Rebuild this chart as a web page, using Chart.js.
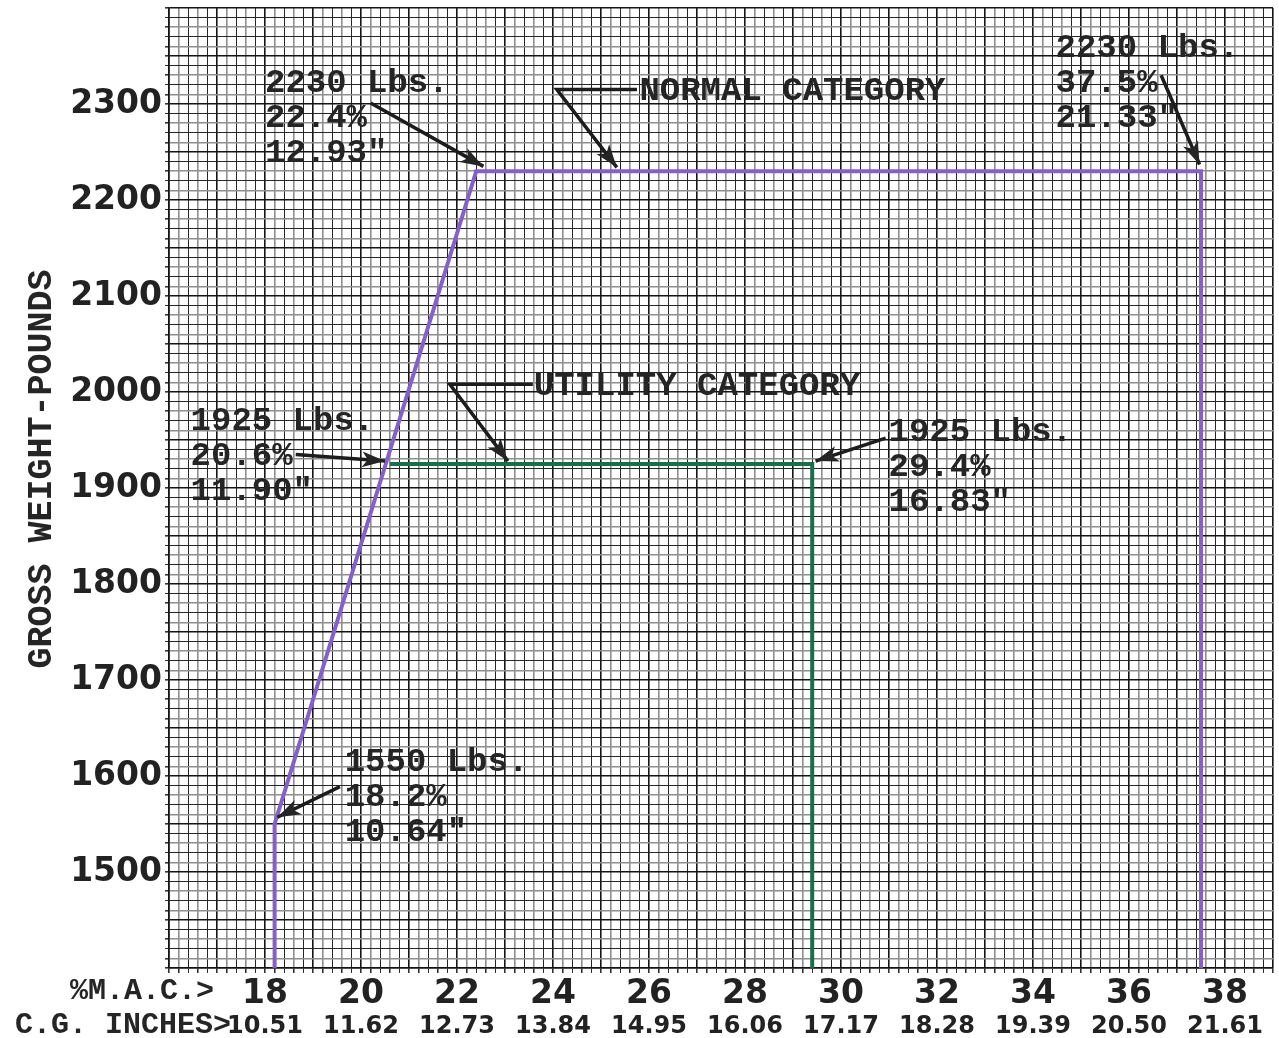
<!DOCTYPE html>
<html>
<head>
    <title>Weight and Balance Envelope</title>
    <meta charset="utf-8">
    <style>
        body { margin: 0; background: #fff; }
        #wrap { width: 1279px; height: 1038px; position: relative; }
    </style>
</head>
<body>
    <div id="wrap"><canvas id="chart" width="1279" height="1038"></canvas></div>

    <script src="https://cdn.jsdelivr.net/npm/chart.js"></script>
    <script>
        // tick labels
        var macTicks = [18, 20, 22, 24, 26, 28, 30, 32, 34, 36, 38];
        var cgInches = ['10.51', '11.62', '12.73', '13.84', '14.95', '16.06', '17.17', '18.28', '19.39', '20.50', '21.61'];
        var weightTicks = [1500, 1600, 1700, 1800, 1900, 2000, 2100, 2200, 2300];

        // envelopes (% MAC vs gross weight)
        var normalPct = [18.2, 18.2, 22.4, 37.5, 37.5];
        var normalLbs = [1400, 1550, 2230, 2230, 1400];
        var utilityPct = [20.6, 29.4, 29.4];
        var utilityLbs = [1925, 1925, 1400];

        // callouts: text anchor and arrow path, in chart units
        var callouts = [
            { lines: ['2230 Lbs.', '22.4%', '12.93\u2033'], at: [18.0, 2312], arrow: [[20.2, 2301], [22.55, 2235]] },
            { lines: ['NORMAL CATEGORY'], at: [25.8, 2304], arrow: [[25.75, 2315], [24.08, 2315], [25.33, 2234]] },
            { lines: ['2230 Lbs.', '37.5%', '21.33\u2033'], at: [34.47, 2349], arrow: [[36.67, 2330], [37.47, 2237]] },
            { lines: ['UTILITY CATEGORY'], at: [23.6, 1997], arrow: [[23.58, 2008], [21.85, 2008], [23.06, 1928]] },
            { lines: ['1925 Lbs.', '20.6%', '11.90\u2033'], at: [16.45, 1960], arrow: [[18.64, 1935], [20.5, 1928]] },
            { lines: ['1925 Lbs.', '29.4%', '16.83\u2033'], at: [30.99, 1949], arrow: [[30.93, 1952], [29.47, 1928]] },
            { lines: ['1550 Lbs.', '18.2%', '10.64\u2033'], at: [19.66, 1605], arrow: [[19.56, 1589], [18.26, 1557]] }
        ];

        function toPoints(xs, ys) {
            return xs.map(function(x, i) { return { x: x, y: ys[i] }; });
        }

        // graph paper: alternating black / grey lines, heavy line every 5th
        function paperColor(idx) {
            var k = ((idx % 5) + 5) % 5;
            if (k === 0) return '#141414';
            return (k % 2 === 1) ? '#8e8e8e' : '#262626';
        }
        function paperWidth(idx) {
            var k = ((idx % 5) + 5) % 5;
            if (k === 0) return 1.6;
            return (k % 2 === 1) ? 1.6 : 1;
        }
        function xIdx(ctx) { return ctx.tick ? Math.round((ctx.tick.value - 16) / 0.2) : 0; }
        function yIdx(ctx) { return ctx.tick ? Math.round((ctx.tick.value - 1400) / 10) : 0; }

        function drawArrow(c, pts) {
            c.beginPath();
            c.moveTo(pts[0][0], pts[0][1]);
            for (var i = 1; i < pts.length; i++) c.lineTo(pts[i][0], pts[i][1]);
            c.stroke();
            var a = pts[pts.length - 2], b = pts[pts.length - 1];
            var ang = Math.atan2(b[1] - a[1], b[0] - a[0]);
            var len = 23, half = 8;
            c.beginPath();
            c.moveTo(b[0], b[1]);
            c.lineTo(b[0] - len * Math.cos(ang) + half * Math.sin(ang), b[1] - len * Math.sin(ang) - half * Math.cos(ang));
            c.lineTo(b[0] - len * 0.75 * Math.cos(ang), b[1] - len * 0.75 * Math.sin(ang));
            c.lineTo(b[0] - len * Math.cos(ang) - half * Math.sin(ang), b[1] - len * Math.sin(ang) + half * Math.cos(ang));
            c.closePath();
            c.fill();
        }

        var labelsPlugin = {
            id: 'labels',
            afterDraw: function(chart) {
                var c = chart.ctx;
                var x = chart.scales.x, y = chart.scales.y;
                c.save();
                c.fillStyle = '#252525';
                c.strokeStyle = '#1c1c1c';
                c.lineWidth = 3.5;

                // axis captions
                c.font = 'bold 30px "Liberation Mono"';
                c.textAlign = 'right';
                c.textBaseline = 'middle';
                c.fillText('%M.A.C.>', x.left + 45, 991);
                c.fillText('C.G. INCHES>', x.left + 62, 1025);

                c.save();
                c.translate(42, 469);
                c.rotate(-Math.PI / 2);
                c.textAlign = 'center';
                c.font = 'bold 35px "Liberation Mono"';
                c.fillText('GROSS WEIGHT-POUNDS', 0, 0);
                c.restore();

                // callouts
                c.font = 'bold 34px "Liberation Mono"';
                c.textAlign = 'left';
                c.textBaseline = 'alphabetic';
                callouts.forEach(function(item) {
                    var px = x.getPixelForValue(item.at[0]);
                    var py = y.getPixelForValue(item.at[1]);
                    item.lines.forEach(function(t, i) {
                        c.fillText(t, px, py + i * 35);
                    });
                    drawArrow(c, item.arrow.map(function(p) {
                        return [x.getPixelForValue(p[0]), y.getPixelForValue(p[1])];
                    }));
                });
                c.restore();
            }
        };

        var ctx = document.getElementById('chart').getContext('2d');
        var myChart = new Chart(ctx, {
            type: 'scatter',
            data: {
                datasets: [{
                    label: 'Normal category',
                    data: toPoints(normalPct, normalLbs),
                    showLine: true,
                    borderColor: '#8361c8',
                    borderWidth: 4,
                    pointRadius: 0
                }, {
                    label: 'Utility category',
                    data: toPoints(utilityPct, utilityLbs),
                    showLine: true,
                    borderColor: '#17704a',
                    borderWidth: 4,
                    pointRadius: 0
                }]
            },
            options: {
                responsive: false,
                animation: false,
                layout: { padding: { top: 8, right: 6, left: 0, bottom: 0 } },
                plugins: {
                    legend: { display: false },
                    tooltip: { enabled: false }
                },
                scales: {
                    x: {
                        type: 'linear',
                        position: 'bottom',
                        min: 16,
                        max: 39,
                        afterFit: function(s) { s.height = 44; s.paddingLeft = 0; s.paddingRight = 0; },
                        border: { display: true, color: '#141414', width: 1.6 },
                        grid: {
                            color: function(c) { return paperColor(xIdx(c)); },
                            lineWidth: function(c) { return paperWidth(xIdx(c)); },
                            tickLength: 5,
                            tickColor: '#333'
                        },
                        ticks: {
                            stepSize: 0.2,
                            autoSkip: false,
                            maxRotation: 0,
                            padding: 2,
                            color: '#222',
                            font: { family: 'DejaVu Sans', weight: 'bold', size: 33 },
                            callback: function(v) {
                                var r = Math.round(v * 10) / 10;
                                return macTicks.indexOf(r) >= 0 ? String(r) : '';
                            }
                        }
                    },
                    x2: {
                        type: 'linear',
                        position: 'bottom',
                        min: 16,
                        max: 39,
                        afterFit: function(s) { s.height = 26; s.paddingLeft = 0; s.paddingRight = 0; },
                        border: { display: false },
                        grid: { display: false, drawTicks: false },
                        ticks: {
                            stepSize: 2,
                            autoSkip: false,
                            maxRotation: 0,
                            padding: 0,
                            color: '#222',
                            font: { family: 'DejaVu Sans', weight: 'bold', size: 24 },
                            callback: function(v) {
                                var i = macTicks.indexOf(Math.round(v));
                                return i >= 0 ? cgInches[i] : '';
                            }
                        }
                    },
                    y: {
                        type: 'linear',
                        min: 1400,
                        max: 2400,
                        afterFit: function(s) { s.width = 169; s.paddingTop = 0; s.paddingBottom = 0; },
                        border: { display: true, color: '#141414', width: 1.6 },
                        grid: {
                            color: function(c) { return paperColor(yIdx(c)); },
                            lineWidth: function(c) { return paperWidth(yIdx(c)); },
                            tickLength: 4,
                            tickColor: '#333'
                        },
                        ticks: {
                            stepSize: 10,
                            autoSkip: false,
                            padding: 3,
                            color: '#222',
                            font: { family: 'DejaVu Sans', weight: 'bold', size: 33 },
                            callback: function(v) {
                                return weightTicks.indexOf(Math.round(v)) >= 0 ? String(Math.round(v)) : '';
                            }
                        }
                    }
                }
            },
            plugins: [labelsPlugin]
        });
    </script>
</body>
</html>
